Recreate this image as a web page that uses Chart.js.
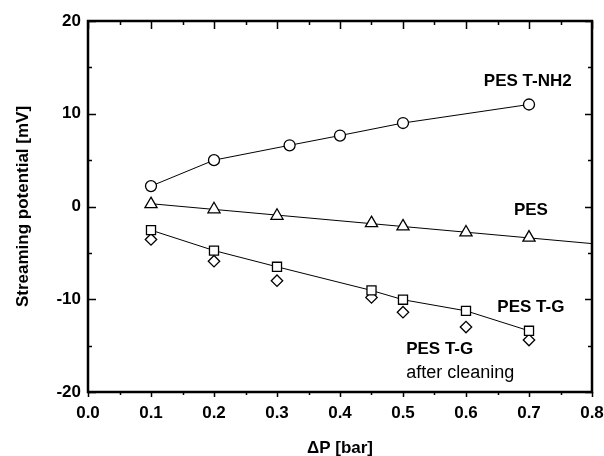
<!DOCTYPE html>
<html lang="en">
<head>
<meta charset="UTF-8">
<title>Streaming potential</title>
<style>
  body { margin: 0; background: #fff; }
  canvas { display: block; }
</style>
</head>
<body>
<canvas id="chart" width="604" height="456"></canvas>
<script src="https://cdn.jsdelivr.net/npm/chart.js"></script>
<script>
// data
const xTicks = [0.0, 0.1, 0.2, 0.3, 0.4, 0.5, 0.6, 0.7, 0.8];
const yTicks = [-20, -10, 0, 10, 20];

const nh2X = [0.1, 0.2, 0.32, 0.4, 0.5, 0.7];
const nh2Y = [2.2, 5.0, 6.6, 7.65, 9.0, 11.0];

const pesX = [0.1, 0.2, 0.3, 0.45, 0.5, 0.6, 0.7];
const pesY = [0.25, -0.3, -1.0, -1.8, -2.15, -2.8, -3.35];
const pesFitX = [0.1, 0.8];
const pesFitY = [0.3, -4.0];

const tgX = [0.1, 0.2, 0.3, 0.45, 0.5, 0.6, 0.7];
const tgY = [-2.55, -4.75, -6.5, -9.05, -10.05, -11.25, -13.4];

const cleanX = [0.1, 0.2, 0.3, 0.45, 0.5, 0.6, 0.7];
const cleanY = [-3.55, -5.9, -8.0, -9.8, -11.4, -13.0, -14.4];

const toPts = (xs, ys) => xs.map((x, i) => ({x: x, y: ys[i]}));

const FONT = "'Liberation Sans', Arial, sans-serif";

function markers(label, xs, ys, style, r, line) {
    return {
        label: label,
        data: toPts(xs, ys),
        showLine: line,
        borderColor: '#000',
        borderWidth: 1,
        pointStyle: style,
        pointRadius: r,
        pointBorderWidth: 1.3,
        pointBackgroundColor: '#fff',
        pointBorderColor: '#000',
        tension: 0
    };
}

// frame, inward ticks and curve labels
const framePlugin = {
    id: 'frame',
    afterDraw(chart) {
        const ctx = chart.ctx;
        const a = chart.chartArea;
        const xs = chart.scales.x, ys = chart.scales.y;
        ctx.save();
        ctx.strokeStyle = '#000';
        ctx.lineWidth = 1.5;
        ctx.beginPath();
        for (let v = 0; v <= 0.8001; v += 0.05) {
            const px = Math.round(xs.getPixelForValue(v)) + 0.5;
            const major = Math.abs(v * 10 - Math.round(v * 10)) < 1e-6;
            ctx.moveTo(px, a.top); ctx.lineTo(px, a.top + (major ? 8 : 4));
            ctx.moveTo(px, a.bottom); ctx.lineTo(px, a.bottom + (major ? 5 : 3));
        }
        for (let v = -20; v <= 20; v += 5) {
            const py = Math.round(ys.getPixelForValue(v)) + 0.5;
            const major = v % 10 === 0;
            ctx.moveTo(a.left, py); ctx.lineTo(a.left + (major ? 8 : 4), py);
            ctx.moveTo(a.right, py); ctx.lineTo(a.right - (major ? 7 : 4), py);
        }
        ctx.stroke();
        ctx.lineWidth = 2.5;
        ctx.strokeRect(a.left, a.top, a.right - a.left, a.bottom - a.top);

        ctx.fillStyle = '#000';
        const put = (txt, x, y, align, base, weight) => {
            ctx.font = weight + ' 17px ' + FONT;
            ctx.textAlign = align;
            ctx.textBaseline = base;
            ctx.fillText(txt, xs.getPixelForValue(x), ys.getPixelForValue(y));
        };
        put('PES T-NH2', 0.698, 13.5, 'center', 'middle', 'bold');
        put('PES', 0.703, -0.45, 'center', 'middle', 'bold');
        put('PES T-G', 0.703, -10.9, 'center', 'middle', 'bold');
        put('PES T-G', 0.505, -15.4, 'left', 'middle', 'bold');
        ctx.font = 'normal 18px ' + FONT;
        ctx.textAlign = 'left';
        ctx.textBaseline = 'alphabetic';
        ctx.fillText('after cleaning', xs.getPixelForValue(0.505), ys.getPixelForValue(-18.45));
        ctx.restore();
    }
};

new Chart(document.getElementById('chart'), {
    type: 'scatter',
    data: {
        datasets: [
            markers('PES T-NH2', nh2X, nh2Y, 'circle', 5.5, true),
            markers('PES', pesX, pesY, 'triangle', 7, false),
            {
                label: 'PES fit',
                data: toPts(pesFitX, pesFitY),
                showLine: true,
                borderColor: '#000',
                borderWidth: 1,
                pointRadius: 0
            },
            markers('PES T-G', tgX, tgY, 'rect', 6.4, true),
            markers('PES T-G after cleaning', cleanX, cleanY, 'rectRot', 5.7, false)
        ]
    },
    options: {
        responsive: false,
        animation: false,
        layout: { padding: { top: 21, right: 12, left: 0, bottom: 0 } },
        plugins: { legend: { display: false }, tooltip: { enabled: false } },
        scales: {
            x: {
                type: 'linear',
                min: 0, max: 0.8,
                afterBuildTicks: s => { s.ticks = xTicks.map(v => ({value: v})); },
                afterFit: s => { s.height = 64; s.paddingLeft = 0; s.paddingRight = 0; },
                grid: { display: false, drawTicks: false },
                border: { display: false },
                ticks: {
                    color: '#000', padding: 11,
                    font: { family: FONT, size: 17, weight: 'bold' },
                    callback: v => Number(v).toFixed(1)
                },
                title: {
                    display: true, text: 'ΔP [bar]', color: '#000',
                    padding: { top: 0, bottom: -3 },
                    font: { family: FONT, size: 17, weight: 'bold' }
                }
            },
            y: {
                min: -20, max: 20,
                afterBuildTicks: s => { s.ticks = yTicks.map(v => ({value: v})); },
                afterFit: s => { s.width = 88; s.paddingTop = 0; s.paddingBottom = 0; },
                grid: { display: false, drawTicks: false },
                border: { display: false },
                ticks: {
                    color: '#000', padding: 7,
                    font: { family: FONT, size: 17, weight: 'bold' }
                },
                title: {
                    display: true, text: 'Streaming potential [mV]', color: '#000',
                    padding: { top: 13, bottom: 0 },
                    font: { family: FONT, size: 17, weight: 'bold' }
                }
            }
        }
    },
    plugins: [framePlugin]
});
</script>
</body>
</html>
